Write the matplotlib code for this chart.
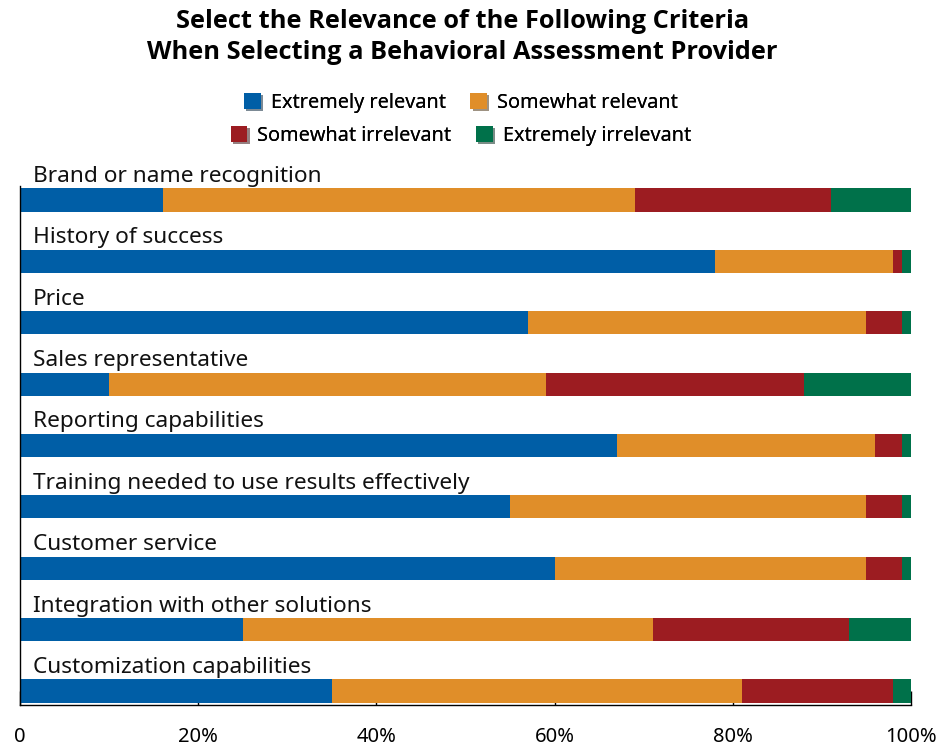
import matplotlib.pyplot as plt
import matplotlib.patheffects as pe
from matplotlib.patches import Patch
from matplotlib.transforms import blended_transform_factory
import numpy as np

plt.rcParams['font.family'] = ['Noto Sans', 'DejaVu Sans']

criteria = ['Brand or name recognition', 'History of success', 'Price',
            'Sales representative', 'Reporting capabilities',
            'Training needed to use results effectively', 'Customer service',
            'Integration with other solutions', 'Customization capabilities']
series = ['Extremely relevant', 'Somewhat relevant',
          'Somewhat irrelevant', 'Extremely irrelevant']
extremely_relevant = [16, 78, 57, 10, 67, 55, 60, 25, 35]
somewhat_relevant = [53, 20, 38, 49, 29, 40, 35, 46, 46]
somewhat_irrelevant = [22, 1, 4, 29, 3, 4, 4, 22, 17]
extremely_irrelevant = [9, 1, 1, 12, 1, 1, 1, 7, 2]
colors = ['#005EA6', '#E08E29', '#9C1C21', '#00714A']
ticks = [0, 20, 40, 60, 80, 100]
tick_labels = ['0', '20%', '40%', '60%', '80%', '100%']

fig = plt.figure(figsize=(9.49, 7.49), dpi=100)
ax = fig.add_axes([20 / 949, 44 / 749, 891 / 949, 519 / 749])
ax.set_axisbelow(True)

y = np.arange(len(criteria))
left = np.zeros(len(criteria))
for vals, c in zip([extremely_relevant, somewhat_relevant,
                    somewhat_irrelevant, extremely_irrelevant], colors):
    ax.barh(y, vals, left=left, height=0.375, color=c, linewidth=0, zorder=2)
    left += np.array(vals)

trans = blended_transform_factory(ax.transAxes, ax.transData)
for i, name in enumerate(criteria):
    ax.text(0.0146, i - 0.295, name, transform=trans, fontsize=16.3,
            va='baseline', ha='left', color='#111111')

ax.set_xlim(0, 100)
ax.set_ylim(len(criteria) - 1 + 0.228, -0.228)
ax.set_yticks([])
ax.set_xticks(ticks)
ax.set_xticklabels(tick_labels, fontsize=14.5)
ax.tick_params(axis='x', direction='in', length=10, pad=16, width=1)
for s in ['top', 'right']:
    ax.spines[s].set_visible(False)
ax.spines['left'].set_linewidth(1)
ax.spines['bottom'].set_linewidth(1)

fig.text(0.487, 1 - 9 / 749, 'Select the Relevance of the Following Criteria\n'
         'When Selecting a Behavioral Assessment Provider',
         ha='center', va='top', fontsize=18.3, fontweight='bold',
         family=['Open Sans', 'Lato', 'DejaVu Sans'], linespacing=1.32)

shadow = [pe.SimplePatchShadow(offset=(1.5, -1.5), alpha=0.3), pe.Normal()]
handles = [Patch(facecolor=c, edgecolor='none', label=s, path_effects=shadow)
           for s, c in zip(series, colors)]
for row, yy in [(0, 103), (1, 136)]:
    leg = fig.legend(handles=handles[row * 2:row * 2 + 2], ncol=2,
                     loc='center', bbox_to_anchor=(461 / 949, 1 - yy / 749),
                     frameon=False, fontsize=14.3, handlelength=0.85,
                     handleheight=0.85, handletextpad=0.5,
                     columnspacing=1.25, borderpad=0, borderaxespad=0)
    fig.add_artist(leg)

fig.savefig('out.png', dpi=100)
